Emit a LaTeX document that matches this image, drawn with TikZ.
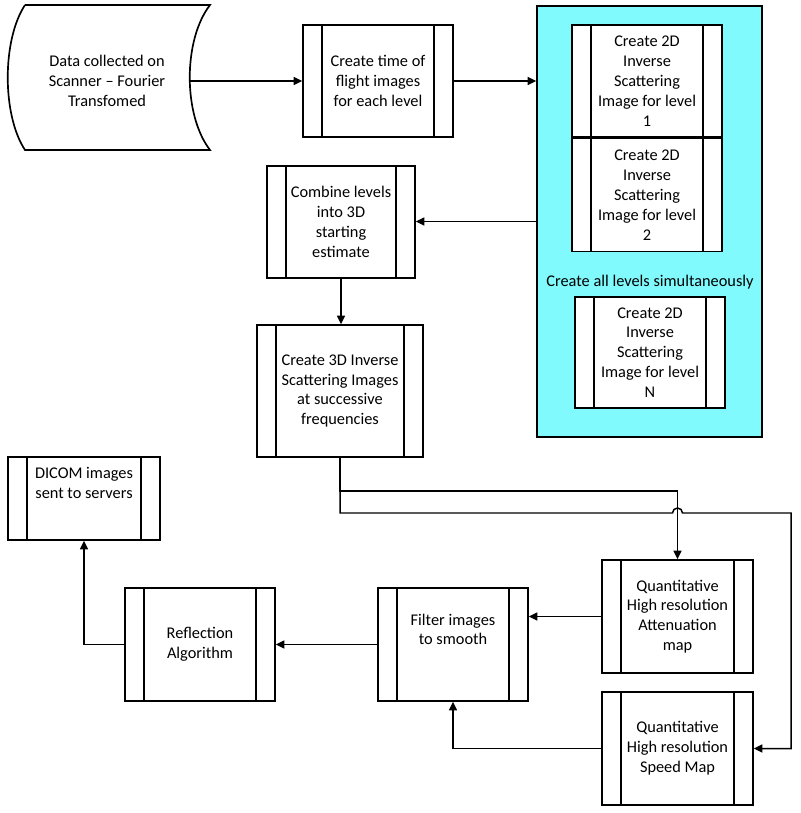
\documentclass[tikz,border=0pt]{standalone}
\usepackage{fontspec}
\setmainfont{Carlito}
\usetikzlibrary{arrows.meta, positioning, calc}
\definecolor{levelcyan}{RGB}{128,250,252}

\begin{document}
\begin{tikzpicture}[x=0.02cm, y=0.02cm,
  font=\fontsize{9.3}{11.3}\selectfont,
  procbox/.style={draw, line width=0.95pt, fill=white, align=center, inner sep=0pt,
    minimum width=3cm, minimum height=2.26cm,
    path picture={
      \draw[line width=0.95pt] ([xshift=0.38cm]path picture bounding box.north west)
        -- ([xshift=0.38cm]path picture bounding box.south west);
      \draw[line width=0.95pt] ([xshift=-0.38cm]path picture bounding box.north east)
        -- ([xshift=-0.38cm]path picture bounding box.south east);
    }},
  flow/.style={line width=0.85pt, -{Triangle[length=1.7mm, width=1.6mm]}}]
  \useasboundingbox (0,0) rectangle (800,-813);

  % data source
  \draw[line width=0.95pt, fill=white] (25,-5) -- (210,-5)
    .. controls (183,-40) and (183,-115) .. (210,-150) -- (25,-150)
    .. controls (2,-115) and (2,-40) .. (25,-5);
  \node[align=center] (data) at (107,-81) {Data collected on\\Scanner -- Fourier\\Transfomed};
  \coordinate (dataout) at (190,-81);

  % all levels at once
  \node[draw, line width=0.95pt, fill=levelcyan, minimum width=4.5cm, minimum height=8.62cm] (grp) at (649.5,-221.5) {};
  \node (grplbl) at (650,-282) {Create all levels simultaneously};

  % boxes
  \node[procbox, minimum height=2.24cm] (tof) at (378,-81) {Create time of\\flight images\\for each level};
  \node[procbox, minimum height=2.24cm] (lev1) at (647,-81) {Create 2D\\Inverse\\Scattering\\Image for level\\1};
  \node[procbox, below=0pt of lev1] (lev2) {Create 2D\\Inverse\\Scattering\\Image for level\\2};
  \node[procbox, minimum height=2.22cm] (levN) at (650,-352.5) {Create 2D\\Inverse\\Scattering\\Image for level\\N};
  \node[procbox, minimum width=2.96cm, minimum height=2.24cm] (comb) at (341,-222) {Combine levels\\into 3D\\starting\\estimate};
  \node[procbox, minimum width=3.32cm, minimum height=2.64cm] (inv3d) at (340,-391) {Create 3D Inverse\\Scattering Images\\at successive\\frequencies};
  \node[procbox, minimum width=3.02cm] (atten) at (677.5,-616.5) {Quantitative\\High resolution\\Attenuation\\map};
  \node[procbox, minimum width=3.02cm] (speed) at (677.5,-748.5) {Quantitative\\High resolution\\Speed Map};
  \node[procbox] (filt) at (453,-644.5) {Filter images\\to smooth\\[6pt]\mbox{}};
  \node[procbox] (refl) at (200,-644.5) {Reflection\\Algorithm};
  \node[procbox, minimum width=3.04cm, minimum height=1.66cm] (dicom) at (84,-498.5) {DICOM images\\sent to servers\\[6pt]\mbox{}};

  % connectors
  \draw[flow] (dataout) -- (tof.west);
  \draw[flow] (tof.east) -- (tof.east -| grp.west);
  \draw[flow] (grp.west) -- (grp.west -| comb.east);
  \draw[flow] (comb.south) -- (comb.south |- inv3d.north);
  \draw[flow] (inv3d.south) -- ++(0,-33) -| (atten.north);
  % line hops over the one above
  \draw[flow] (inv3d.south) -- (340,-513) -- (672.5,-513)
    arc[start angle=180, end angle=0, radius=5] -- (791,-513) |- (speed.east);
  \draw[flow] (atten.west) -- (atten.west -| filt.east);
  \draw[flow] (speed.west) -| (filt.south);
  \draw[flow] (filt.west) -- (refl.east);
  \draw[flow] (refl.west) -| (dicom.south);
\end{tikzpicture}
\end{document}
